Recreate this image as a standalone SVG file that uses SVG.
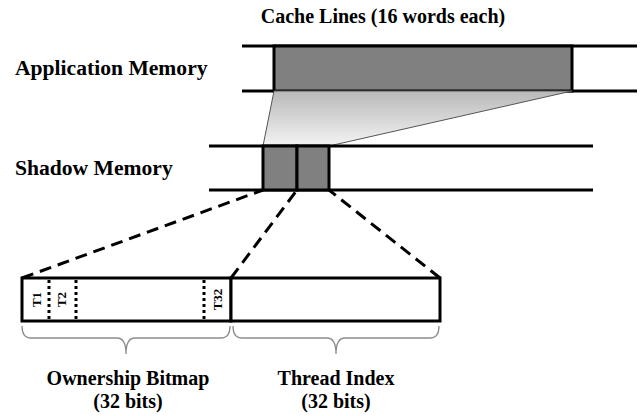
<svg xmlns="http://www.w3.org/2000/svg" width="644" height="416" viewBox="0 0 644 416">
<defs>
<linearGradient id="fade" x1="0" y1="0" x2="0" y2="1">
<stop offset="0" stop-color="#b8b8b8"/>
<stop offset="1" stop-color="#f4f4f4"/>
</linearGradient>
<style>
.lbl{font-family:"Liberation Serif","Times New Roman",serif;font-weight:bold;font-size:20px;fill:#000}
.big{font-size:21.6px}
.tl{font-family:"Liberation Serif","Times New Roman",serif;font-weight:bold;font-size:13px;fill:#000}
.rail{stroke:#000;stroke-width:3;fill:none}
.cell{fill:#808080;stroke:#000;stroke-width:3}
.box{fill:#fff;stroke:#000;stroke-width:3}
.dash{stroke:#000;stroke-width:3;stroke-dasharray:12 7;fill:none}
.dot{stroke:#000;stroke-width:3;stroke-dasharray:3 3;fill:none}
.brace{stroke:#8c8c8c;stroke-width:1.3;fill:none}
</style>
</defs>
<g id="title"><text class="lbl" x="383" y="23" text-anchor="middle">Cache Lines (16 words each)</text></g>
<g id="app-memory">
<text class="lbl big" x="15" y="75">Application Memory</text>
<line class="rail" x1="242" y1="46" x2="637" y2="46"/>
<line class="rail" x1="242" y1="91" x2="637" y2="91"/>
<rect class="cell" x="274" y="46" width="298" height="45"/>
</g>
<g id="mapping">
<polygon points="274,91 572,91 329,146 263,146" fill="url(#fade)" stroke="#555" stroke-width="1"/>
</g>
<g id="shadow-memory">
<text class="lbl big" x="15" y="175">Shadow Memory</text>
<line class="rail" x1="209" y1="146" x2="593" y2="146"/>
<line class="rail" x1="209" y1="190" x2="593" y2="190"/>
<rect class="cell" x="263" y="146" width="34" height="44"/>
<rect class="cell" x="297" y="146" width="32" height="44"/>
</g>
<g id="connectors">
<line class="dash" x1="22" y1="278" x2="263" y2="190"/>
<line class="dash" x1="231" y1="278" x2="297" y2="190"/>
<line class="dash" x1="440" y1="278" x2="329" y2="190"/>
</g>
<g id="ownership-bitmap">
<rect class="box" x="22" y="278" width="209" height="43"/>
<line class="dot" x1="49" y1="280" x2="49" y2="320"/>
<line class="dot" x1="76" y1="280" x2="76" y2="320"/>
<line class="dot" x1="204" y1="280" x2="204" y2="320"/>
<text class="tl" transform="translate(36,299.5) rotate(-90)" text-anchor="middle" dominant-baseline="central">T1</text>
<text class="tl" transform="translate(61,299.5) rotate(-90)" text-anchor="middle" dominant-baseline="central">T2</text>
<text class="tl" transform="translate(217,299.5) rotate(-90)" text-anchor="middle" dominant-baseline="central">T32</text>
<path class="brace" d="M22,326 Q22,338 31,338 L117,338 Q126,338 126,354 Q126,338 135,338 L221,338 Q230,338 230,326"/>
<text class="lbl" x="128" y="385" text-anchor="middle">Ownership Bitmap</text>
<text class="lbl" x="128" y="408" text-anchor="middle">(32 bits)</text>
</g>
<g id="thread-index">
<rect class="box" x="231" y="278" width="209" height="43"/>
<path class="brace" d="M233,326 Q233,338 242,338 L327,338 Q336,338 336,354 Q336,338 345,338 L430,338 Q439,338 439,326"/>
<text class="lbl" x="336" y="385" text-anchor="middle">Thread Index</text>
<text class="lbl" x="336" y="408" text-anchor="middle">(32 bits)</text>
</g>
</svg>
